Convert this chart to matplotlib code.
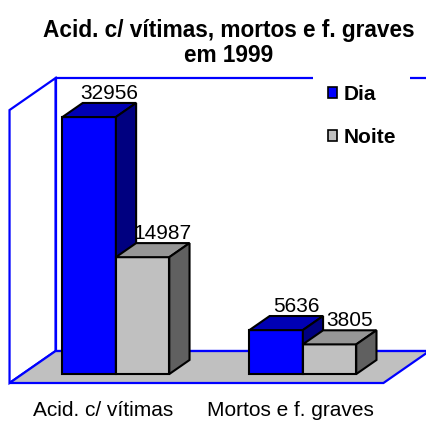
import matplotlib
matplotlib.use('Agg')
import matplotlib.pyplot as plt
from matplotlib import font_manager as fm
from matplotlib.patches import Polygon, Patch

plt.rcParams['font.family'] = ['Liberation Sans', 'DejaVu Sans']

# pick the real (not narrow) Liberation Sans Bold file
bold_file = None
for f in fm.fontManager.ttflist:
    if f.name == 'Liberation Sans' and f.weight in (700, 'bold') and f.style == 'normal' \
            and 'Narrow' not in f.fname:
        bold_file = f.fname
        break

categories = ['Acid. c/ vítimas', 'Mortos e f. graves']
series_names = ['Dia', 'Noite']
dia = [32956, 5636]
noite = [14987, 3805]
y_max = 35000

front_colors = ['#0000ff', '#c0c0c0']
top_colors = ['#0000b4', '#969696']
side_colors = ['#000080', '#606060']
wall_color = '#0000ff'

# fake 3d: depth vector of the whole floor, in data units
dep_x, dep_y = 0.246, 4100
bar_w = 0.2857
z0, z1 = 0.28, 0.72   # front / back of the bars along the depth


def proj(x, v, z):
    return (x + z * dep_x, v + z * dep_y)


def bold(size):
    if bold_file:
        return fm.FontProperties(fname=bold_file, size=size)
    return fm.FontProperties(family='Liberation Sans', weight='bold', size=size)


fig = plt.figure(figsize=(4.27, 4.21), dpi=100)
ax = fig.add_axes([0, 0, 1, 1])
ax.set_xlim(-0.551, 1.733)
ax.set_ylim(-4873, 49112)
ax.axis('off')

x0, x1 = -0.5, len(categories) - 0.5
# walls and floor
back = [proj(x0, 0, 1), proj(x0, y_max, 1), proj(x1, y_max, 1), proj(x1, 0, 1)]
left = [proj(x0, 0, 0), proj(x0, y_max, 0), proj(x0, y_max, 1), proj(x0, 0, 1)]
floor = [proj(x0, 0, 0), proj(x1, 0, 0), proj(x1, 0, 1), proj(x0, 0, 1)]
ax.add_patch(Polygon(back, closed=True, fc='white', ec=wall_color, lw=1.6, zorder=1))
ax.add_patch(Polygon(left, closed=True, fc='white', ec=wall_color, lw=1.6, zorder=1))
ax.add_patch(Polygon(floor, closed=True, fc='#c0c0c0', ec=wall_color, lw=1.6, zorder=2))

z = 3
for i in range(len(categories)):
    for j, vals in enumerate([dia, noite]):
        v = vals[i]
        xl = i - bar_w + j * bar_w
        xr = xl + bar_w
        fx, fy = proj(xl, 0, z0)
        ax.bar(fx, v, width=bar_w, bottom=fy, align='edge', color=front_colors[j],
               edgecolor='black', linewidth=1.5, zorder=z)
        top = [proj(xl, v, z0), proj(xr, v, z0), proj(xr, v, z1), proj(xl, v, z1)]
        side = [proj(xr, 0, z0), proj(xr, v, z0), proj(xr, v, z1), proj(xr, 0, z1)]
        ax.add_patch(Polygon(top, closed=True, fc=top_colors[j], ec='black', lw=1.5, zorder=z))
        ax.add_patch(Polygon(side, closed=True, fc=side_colors[j], ec='black', lw=1.5, zorder=z))
        lx, ly = proj(xl + bar_w / 2, v, z1)
        ax.text(lx, ly, str(v), ha='center', va='bottom', fontsize=15, zorder=20)
        z += 1

for i, cat in enumerate(categories):
    ax.annotate(cat, xy=(i, 0), xytext=(0, -13), textcoords='offset points',
                ha='center', va='top', fontsize=15)

handles = [Patch(facecolor=front_colors[k], edgecolor='black', linewidth=1.2) for k in range(2)]
leg = ax.legend(handles, series_names, loc='upper left', bbox_to_anchor=(313 / 427, 1 - 70 / 421),
                prop=bold(15), frameon=True, fancybox=False,
                framealpha=1, facecolor='white', edgecolor='none', borderpad=0.7,
                handlelength=0.45, handleheight=0.45, handletextpad=0.3, labelspacing=1.15,
                borderaxespad=0)
leg.set_zorder(30)

fig.text(229 / 427, 1 - 19 / 421, 'Acid. c/ vítimas, mortos e f. graves\nem 1999',
         ha='center', va='top', fontproperties=bold(16.3), linespacing=1.1)

plt.savefig('out.png', dpi=100)
